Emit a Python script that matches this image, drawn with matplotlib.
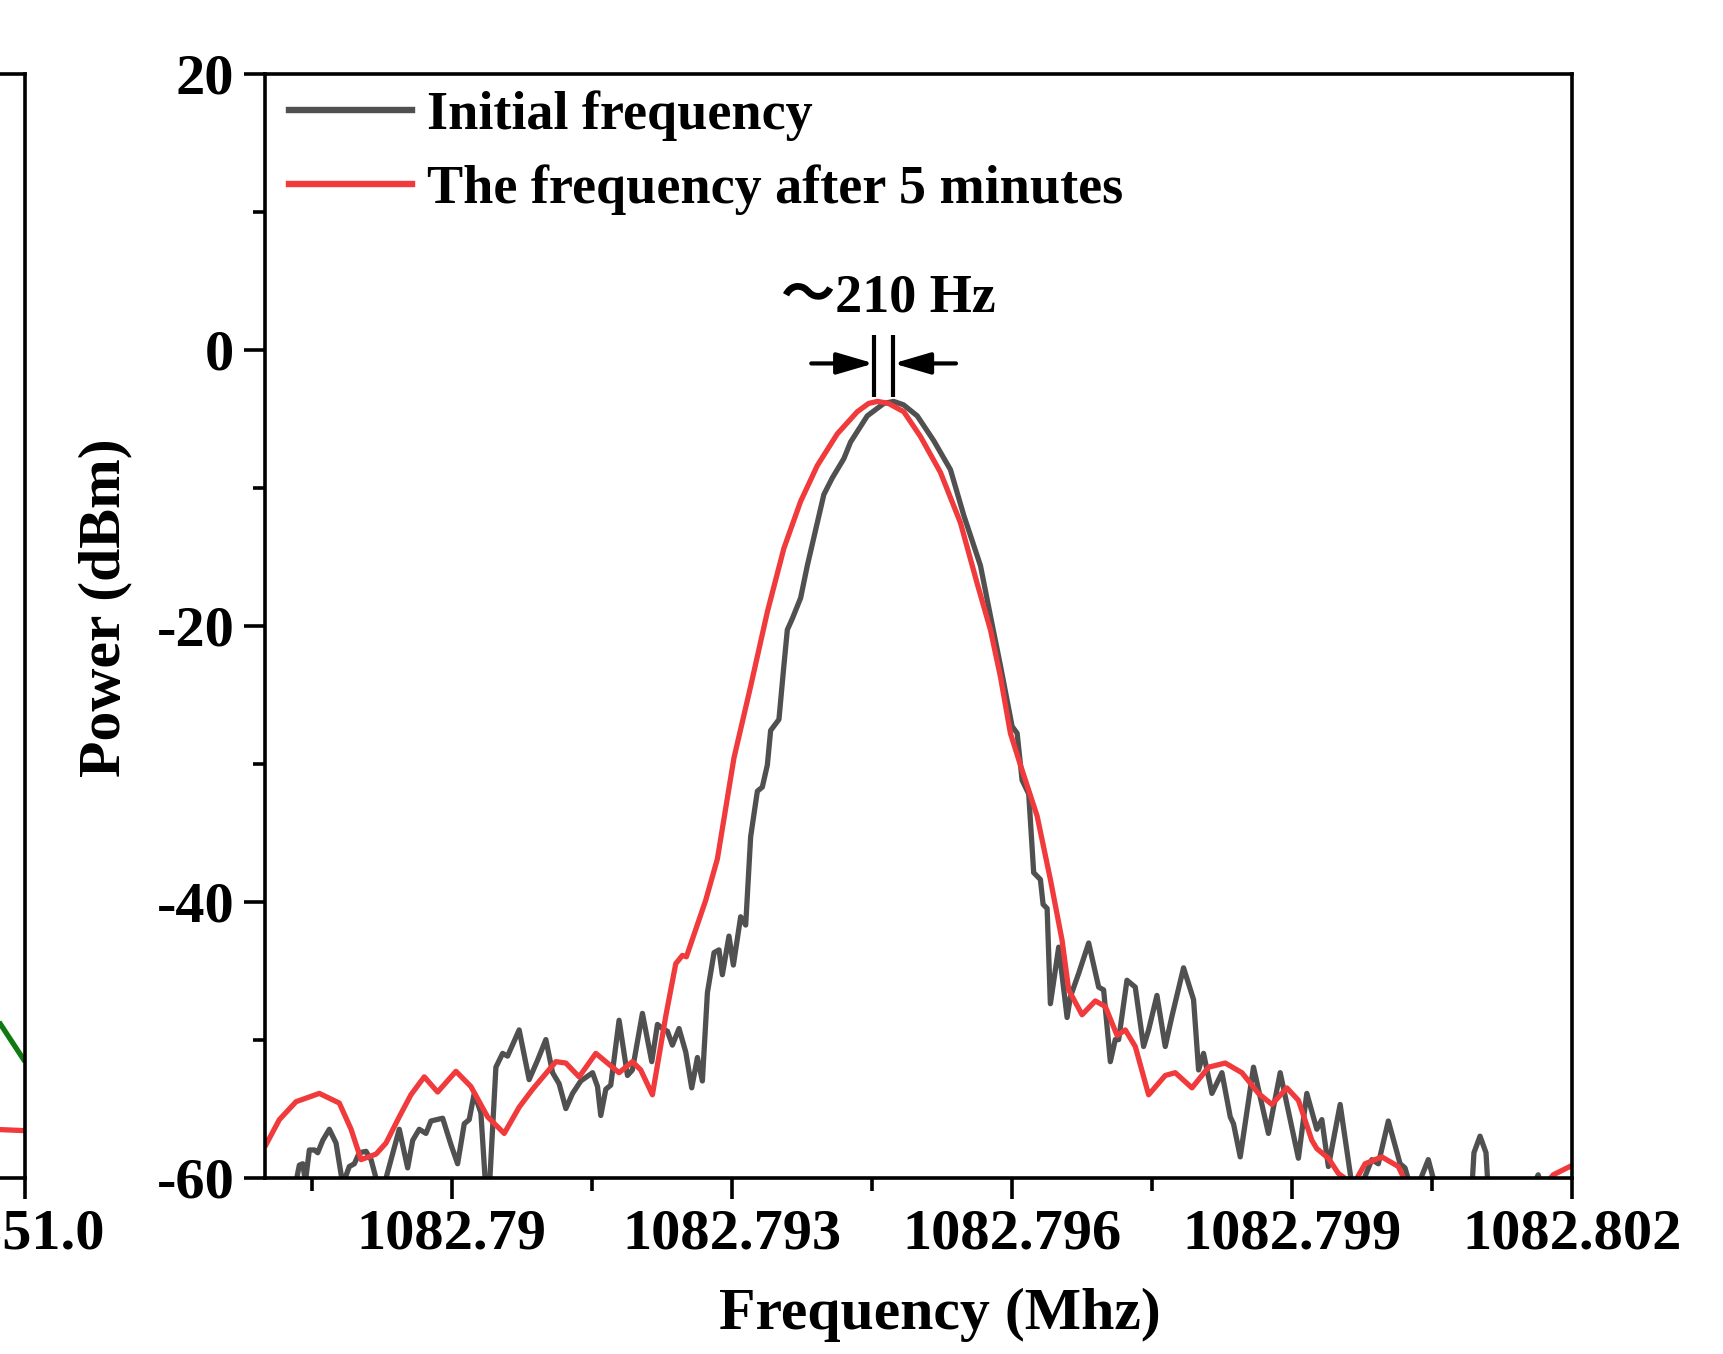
import numpy as np
import matplotlib
matplotlib.use("Agg")
import matplotlib.pyplot as plt
from matplotlib.lines import Line2D

plt.rcParams['font.family'] = ['Liberation Serif', 'DejaVu Serif']
plt.rcParams['font.weight'] = 'bold'
plt.rcParams['axes.unicode_minus'] = False

# ---------------- data ----------------
F0 = 1082.79  # MHz, reference frequency; offsets below in Hz

red_df_hz = [-1988, -1846, -1667, -1418, -1204, -1078, -971, -811, -704, -562,
             -437, -294, -151, 45, 205, 384, 562, 722, 866, 1115,
             1222, 1364, 1543, 1792, 1935, 2024, 2149, 2292, 2399, 2470,
             2513, 2720, 2845, 3022, 3201, 3380, 3557, 3736, 3915, 4129,
             4343, 4464, 4560, 4678, 4841, 5020, 5234, 5448, 5627, 5769,
             5876, 5983, 6090, 6269, 6411, 6536, 6607, 6750, 6892, 6999,
             7125, 7213, 7320, 7463, 7641, 7748, 7927, 8105, 8283, 8462,
             8639, 8783, 8943, 9067, 9211, 9264, 9388, 9495, 9656, 9781,
             9960, 10137, 10263, 11653, 11796, 11974]
red_db = [-57.6, -55.8, -54.5, -53.9, -54.6, -56.5, -58.7, -58.3, -57.5, -55.6,
          -54.0, -52.7, -53.8, -52.3, -53.4, -55.6, -56.8, -54.9, -53.6, -51.6,
          -51.7, -52.7, -51.0, -52.4, -51.6, -52.2, -54.0, -48.3, -44.5, -43.9,
          -44.0, -39.9, -36.9, -29.6, -24.4, -19.0, -14.4, -11.0, -8.4, -6.1,
          -4.5, -3.9, -3.75, -3.9, -4.5, -6.3, -8.9, -12.55, -16.95, -20.3,
          -23.7, -27.8, -30.1, -33.8, -38.4, -42.8, -46.4, -48.2, -47.2, -47.6,
          -49.7, -49.3, -50.5, -54.0, -52.6, -52.4, -53.5, -52.0, -51.7, -52.4,
          -53.9, -54.7, -53.5, -54.4, -57.3, -57.9, -58.6, -59.7, -60.5, -59.0,
          -58.5, -59.2, -61.0, -61.0, -59.8, -59.2]

gray_df_hz = [-1988, -1688, -1632, -1595, -1567, -1525, -1471, -1435, -1381, -1311,
              -1239, -1167, -1097, -1043, -990, -918, -864, -793, -722, -650,
              -562, -472, -418, -348, -276, -223, -97, -9, 63, 134,
              187, 241, 312, 366, 401, 473, 545, 598, 722, 829,
              919, 1008, 1080, 1150, 1222, 1294, 1382, 1508, 1561, 1596,
              1650, 1703, 1792, 1882, 1935, 2042, 2142, 2203, 2256, 2310,
              2363, 2434, 2506, 2570, 2631, 2684, 2738, 2809, 2862, 2898,
              2969, 3016, 3094, 3148, 3201, 3273, 3326, 3380, 3415, 3504,
              3557, 3594, 3647, 3736, 3808, 3915, 3985, 4075, 4199, 4271,
              4450, 4627, 4731, 4838, 4985, 5162, 5341, 5483, 5662, 5769,
              5876, 6001, 6055, 6108, 6179, 6232, 6304, 6333, 6376, 6411,
              6500, 6590, 6625, 6714, 6821, 6928, 6981, 7053, 7106, 7142,
              7231, 7320, 7409, 7463, 7552, 7641, 7713, 7837, 7944, 7998,
              8051, 8141, 8248, 8337, 8372, 8444, 8586, 8746, 8872, 9067,
              9157, 9264, 9318, 9388, 9514, 9639, 9746, 9853, 9923, 10030,
              10156, 10209, 10281, 10370, 10458, 10548, 10923, 10947, 11012, 11076,
              11100, 11546, 11635, 11689, 11996]
gray_db = [-62.0, -61.0, -59.1, -59.0, -60.3, -58.0, -58.0, -58.2, -57.3, -56.5,
           -57.5, -60.5, -59.2, -59.0, -58.2, -58.1, -58.7, -60.5, -60.5, -58.7,
           -56.5, -59.3, -57.3, -56.5, -56.8, -55.9, -55.7, -57.6, -59.0, -56.1,
           -55.8, -53.9, -55.3, -61.0, -61.0, -52.0, -51.0, -51.2, -49.3, -52.9,
           -51.5, -50.0, -52.4, -53.2, -55.0, -53.9, -53.0, -52.4, -53.4, -55.5,
           -53.6, -53.3, -48.6, -52.6, -52.2, -48.1, -51.6, -48.9, -49.2, -49.4,
           -50.4, -49.2, -50.9, -53.5, -51.3, -53.0, -46.6, -43.7, -43.5, -45.3,
           -42.5, -44.6, -41.1, -41.7, -35.3, -32.0, -31.7, -30.1, -27.6, -26.8,
           -22.9, -20.3, -19.5, -18.0, -15.65, -12.55, -10.5, -9.3, -7.9, -6.7,
           -4.8, -3.9, -3.75, -4.0, -4.8, -6.6, -8.7, -12.0, -15.65, -19.3,
           -22.9, -27.3, -27.8, -31.2, -32.2, -37.9, -38.4, -40.2, -40.5, -47.4,
           -43.3, -48.4, -46.9, -45.2, -43.0, -46.2, -46.4, -51.6, -50.0, -50.0,
           -45.7, -46.2, -50.5, -49.3, -46.8, -50.5, -48.3, -44.8, -47.1, -52.2,
           -51.0, -53.9, -52.4, -55.6, -56.1, -58.5, -52.0, -56.8, -52.4, -58.6,
           -53.9, -56.5, -55.8, -59.2, -54.7, -60.5, -60.5, -58.7, -59.0, -55.9,
           -59.0, -59.3, -61.0, -60.2, -58.7, -61.0, -61.0, -58.2, -57.0, -58.2,
           -61.0, -61.0, -59.8, -61.0, -61.0]

# neighbouring (cut-off) panel on the left
left_x = [1550.95, 1551.00]
left_green = [-48.0, -51.6]
left_red = [-56.5, -56.6]

x_major = [1082.790, 1082.793, 1082.796, 1082.799, 1082.802]
x_major_labels = ['1082.79', '1082.793', '1082.796', '1082.799', '1082.802']
x_minor = [1082.7885, 1082.7915, 1082.7945, 1082.7975, 1082.8005]
y_major = [-60, -40, -20, 0, 20]
y_minor = [-50, -30, -10, 10]

# annotation: ~210 Hz between the two peaks
peak_lines_f = [1082.79452, 1082.79473]
peak_lines_db = (1.07, -3.4)
arrow_db = -1.0
arrow_tail_f = (1082.79385, 1082.79540)

# ---------------- figure ----------------
GRAY = '#505050'
RED = '#F03A3C'
GREEN = '#0F7A12'
SPW = 2.6
LW = 3.8

fig = plt.figure(figsize=(17.24, 13.54), dpi=100)

# left (truncated) panel
axl = fig.add_axes([-0.7396, 0.1303, 0.7541, 0.8153])
axl.plot(left_x, left_green, color=GREEN, lw=LW, solid_capstyle='butt')
axl.plot(left_x, left_red, color=RED, lw=LW, solid_capstyle='butt')
axl.set_xlim(1549.0, 1551.0)
axl.set_ylim(-60, 20)
axl.set_xticks([1551.0], labels=['1551.0'])
axl.set_yticks([])
axl.tick_params(axis='x', direction='out', length=15, width=SPW, labelsize=42, pad=7)
for s in axl.spines.values():
    s.set_linewidth(SPW)

# main panel
ax = fig.add_axes([0.1537, 0.1303, 0.7583, 0.8153])
gray_f = F0 + np.array(gray_df_hz) * 1e-6
red_f = F0 + np.array(red_df_hz) * 1e-6
ax.plot(gray_f, gray_db, color=GRAY, lw=LW, solid_joinstyle='round')
ax.plot(red_f, red_db, color=RED, lw=LW, solid_joinstyle='round')

ax.set_xlim(1082.788, 1082.802)
ax.set_ylim(-60, 20)
ax.set_xticks(x_major, labels=x_major_labels)
ax.set_xticks(x_minor, minor=True)
ax.set_yticks(y_major, labels=[str(v) for v in y_major])
ax.set_yticks(y_minor, minor=True)
ax.tick_params(which='major', direction='out', length=15, width=SPW, labelsize=42, pad=7)
ax.tick_params(which='minor', direction='out', length=9, width=SPW)
for s in ax.spines.values():
    s.set_linewidth(SPW)

ax.set_xlabel('Frequency (Mhz)', fontsize=43, fontweight='bold')
ax.xaxis.set_label_coords(0.5165, -0.100)
ax.set_ylabel('Power (dBm)', fontsize=43, fontweight='bold')
ax.yaxis.set_label_coords(-0.1018, 0.516)

handles = [Line2D([], [], color=GRAY, lw=4.6), Line2D([], [], color=RED, lw=4.6)]
ax.legend(handles, ['Initial frequency', 'The frequency after 5 minutes'],
          loc='upper left', bbox_to_anchor=(0.0184, 0.9845), frameon=False,
          fontsize=39, handlelength=2.27, handletextpad=0.27, labelspacing=0.43,
          borderpad=0, borderaxespad=0)

ax.text(1082.79468, 2.75, '～210 Hz', ha='center', va='baseline', fontsize=39,
        fontweight='bold', family=['Liberation Serif', 'Noto Sans CJK SC'])
for f in peak_lines_f:
    ax.plot([f, f], list(peak_lines_db), color='black', lw=3, solid_capstyle='butt')
ax.annotate('', xy=(peak_lines_f[0], arrow_db), xytext=(arrow_tail_f[0], arrow_db),
            arrowprops=dict(arrowstyle='-|>,head_length=0.75,head_width=0.22', lw=3,
                            color='black', mutation_scale=30, shrinkA=0, shrinkB=0))
ax.annotate('', xy=(peak_lines_f[1], arrow_db), xytext=(arrow_tail_f[1], arrow_db),
            arrowprops=dict(arrowstyle='-|>,head_length=0.75,head_width=0.22', lw=3,
                            color='black', mutation_scale=30, shrinkA=0, shrinkB=0))

fig.savefig('out.png', dpi=100)
